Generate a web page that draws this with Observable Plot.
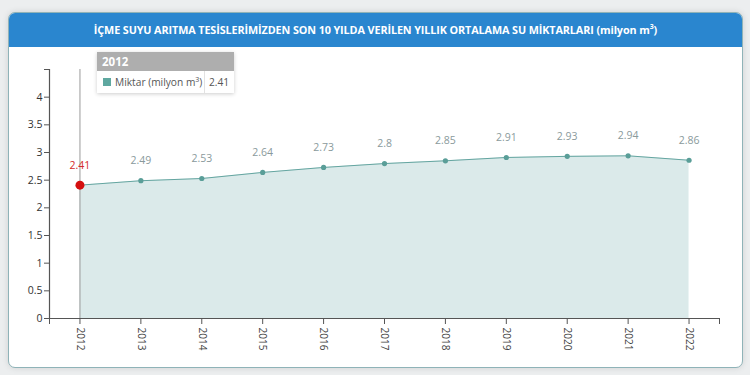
<!DOCTYPE html>
<html><head><meta charset="utf-8">
<script src="https://cdn.jsdelivr.net/npm/d3@7"></script>
<script src="https://cdn.jsdelivr.net/npm/@observablehq/plot@0.6"></script>
<style>
html,body{margin:0;padding:0;background:#eceeef;width:750px;height:375px;overflow:hidden;font-family:"Open Sans","Noto Sans",sans-serif;}
#card{position:absolute;left:8px;top:12px;width:733px;height:354px;background:#fff;border:1px solid #8fb3b8;border-radius:7px;box-shadow:0 0 6px rgba(0,0,0,0.12);overflow:hidden;}
#head{position:absolute;left:0;top:0;width:100%;height:34px;background:#2a86cf;color:#fff;font-weight:bold;font-size:10.8px;text-align:center;line-height:34px;letter-spacing:-0.1px;}
#head sup{font-size:7px;line-height:0;}
#chart{position:absolute;left:0;top:35px;}
#tip{position:absolute;left:88px;top:39px;width:137px;background:#fff;box-shadow:0 1px 4px rgba(0,0,0,0.2);font-size:10.2px;color:#555;white-space:nowrap;}
#tip .h{background:#aeaeae;color:#fff;font-weight:bold;font-size:11.5px;height:19px;line-height:19px;padding-left:5px;}
#tip .r{height:22px;line-height:22px;display:flex;}
#tip .r .n{padding-left:6px;width:101px;border-right:1px solid #e2e2e2;}
#tip .r .v{padding-left:4px;}
#tip .sq{display:inline-block;width:8px;height:8px;background:#5fa8a0;margin-right:4px;}
#tip sup{font-size:7px;line-height:0;}
</style></head>
<body>
<div id="card">
<div id="head">İÇME SUYU ARITMA TESİSLERİMİZDEN SON 10 YILDA VERİLEN YILLIK ORTALAMA SU MİKTARLARI (milyon m<sup>3</sup>)</div>
<div id="chart"></div>
<div id="tip"></div>
</div>
<script>
const years = [2012,2013,2014,2015,2016,2017,2018,2019,2020,2021,2022];
const values = [2.41,2.49,2.53,2.64,2.73,2.8,2.85,2.91,2.93,2.94,2.86];
const yTicks = [0,0.5,1,1.5,2,2.5,3,3.5,4];
const seriesName = "Miktar (milyon m<sup>3</sup>)";
const focusIndex = 0;

const data = years.map((y,i)=>({year:y, value:values[i]}));
const focus = [data[focusIndex]];

const plot = Plot.plot({
  width: 732, height: 318,
  marginLeft: 40, marginRight: 22, marginTop: 21, marginBottom: 48,
  style: {fontFamily: '"Open Sans","Noto Sans",sans-serif', fontSize: "10px", color: "#333", background: "transparent"},
  x: {type: "linear", domain: [2011.5, 2022.5], label: null},
  y: {domain: [0, 4.5], label: null},
  marks: [
    Plot.areaY(data, {x: "year", y: "value", fill: "#dbeaea"}),
    Plot.lineY(data, {x: "year", y: "value", stroke: "#64a5a0", strokeWidth: 1}),
    Plot.ruleX(focus, {x: "year", stroke: "#9a9a9a", strokeWidth: 1}),
    Plot.dot(data, {x: "year", y: "value", r: 2.6, fill: "#5a9e98", stroke: "none"}),
    Plot.dot(focus, {x: "year", y: "value", r: 4.5, fill: "#d40f0f", stroke: "none"}),
    Plot.text(data, {x: "year", y: "value", text: d => String(d.value), dy: -20, fill: (d,i) => i===focusIndex ? "#d42a2a" : "#8a9a9c", fontSize: 10.5}),
    Plot.ruleX([2011.5], {stroke: "#555", strokeWidth: 1.2}),
    Plot.ruleY([0], {stroke: "#555", strokeWidth: 1.2}),
    Plot.axisY({ticks: [...yTicks, 4.5], tickFormat: d => d===4.5 ? "" : String(d), tickSize: 5, tickPadding: 2, stroke: "#555", fill: "#333", fontSize: 10.5, label: null}),
    Plot.axisX({ticks: [2011.5, ...years, 2022.5], tickFormat: d => Number.isInteger(d) ? String(d) : "", tickSize: 6, tickPadding: 3, tickRotate: 90, stroke: "#555", fill: "#444", fontSize: 10, label: null})
  ]
});
document.getElementById("chart").appendChild(plot);

const tip = document.getElementById("tip");
tip.innerHTML = `<div class="h">${years[focusIndex]}</div><div class="r"><div class="n"><span class="sq"></span>${seriesName}</div><div class="v">${values[focusIndex]}</div></div>`;
</script>
</body></html>
